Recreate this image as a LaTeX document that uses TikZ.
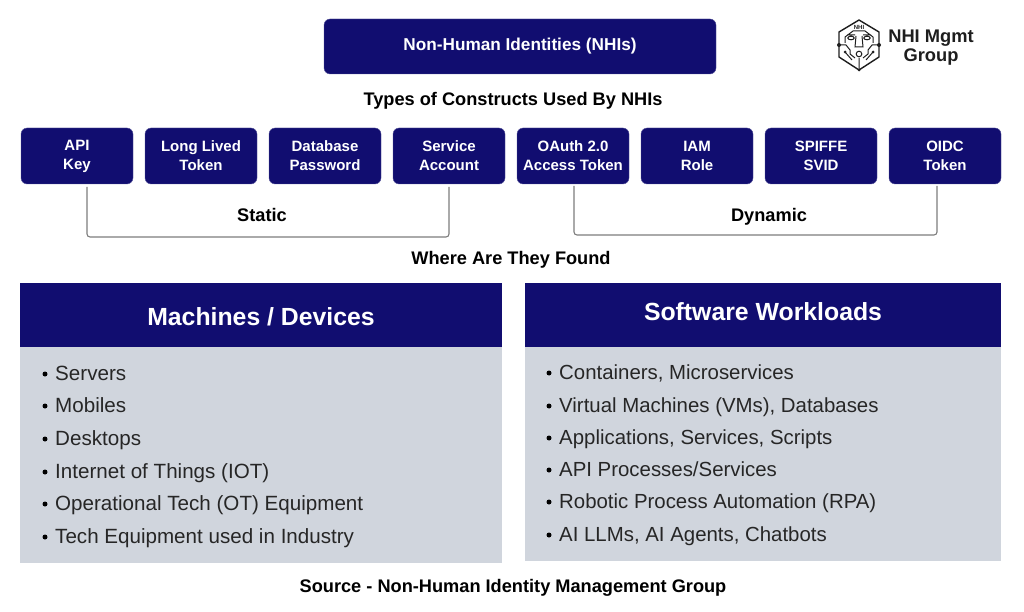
\documentclass[tikz,border=0pt]{standalone}
\usepackage{fontspec}
\setmainfont{Liberation Sans}
\usetikzlibrary{positioning}
\definecolor{navy}{RGB}{17,13,112}
\definecolor{panelgray}{RGB}{208,213,221}
\definecolor{bracketgray}{RGB}{125,125,125}
\definecolor{logogray}{RGB}{30,30,30}
\newcommand{\fs}[1]{\fontsize{#1}{19}\selectfont}
\begin{document}
\begin{tikzpicture}[x=1pt, y=-1pt, node distance=12pt,
                    construct/.style={rectangle, draw=navy!70!white, fill=navy, rounded corners=6pt, minimum width=112pt, minimum height=56pt, inner sep=0pt, outer sep=0pt, align=center, text=white, font=\fs{15}\bfseries},
                    heading/.style={anchor=base, font=\fs{18.2}\bfseries, text=black, inner sep=0pt},
                    bracket/.style={draw=bracketgray, line width=1.1pt, rounded corners=3pt},
                    panelhead/.style={rectangle, fill=navy, inner sep=0pt, outer sep=0pt},
                    paneltitle/.style={anchor=base, inner sep=0pt, text=white, font=\fs{24.8}\bfseries},
                    panelbody/.style={rectangle, fill=panelgray, inner sep=0pt, outer sep=0pt},
                    listitem/.style={anchor=base west, inner sep=0pt, text=black!85, font=\fs{20.6}},
                    dot/.style={circle, fill=black, inner sep=0pt, minimum size=5pt},
                    logoline/.style={draw=logogray, line width=1pt}]

  \useasboundingbox (0,0) rectangle (1024,612);

  \node[construct, minimum width=392pt, minimum height=55pt, font=\fs{17.2}\bfseries] (nhi) at (520,46.5) {\raisebox{-2pt}{Non-Human Identities (NHIs)}};
  \node[heading] (types) at (513,106) {Types of Constructs Used By NHIs};

  \node[construct] (apikey) at (77,156) {API\\Key};
  \node[construct] (longlived) [right=of apikey] {Long Lived\\Token};
  \node[construct] (dbpass) [right=of longlived] {Database\\Password};
  \node[construct] (svcacct) [right=of dbpass] {Service\\Account};
  \node[construct] (oauth) [right=of svcacct] {OAuth 2.0\\Access Token};
  \node[construct] (iam) [right=of oauth] {IAM\\Role};
  \node[construct] (spiffe) [right=of iam] {SPIFFE\\SVID};
  \node[construct] (oidc) [right=of spiffe] {OIDC\\Token};

  \coordinate (staticl) at ([xshift=10pt,yshift=-3pt]apikey.south);
  \coordinate (staticr) at ([yshift=-3pt]svcacct.south);
  \coordinate (dynl) at ([xshift=1pt,yshift=-2pt]oauth.south);
  \coordinate (dynr) at ([xshift=-8pt,yshift=-2pt]oidc.south);

  \draw[bracket] (staticl) -- ++(0,50) -| (staticr);
  \draw[bracket] (dynl) -- ++(0,49) -| (dynr);

  \node[heading] (static) at (262,222) {Static};
  \node[heading] (dynamic) at (769,222) {Dynamic};
  \node[heading] (found) at (511,264) {Where Are They Found};

  % panels
  \node[panelhead, minimum width=482pt, minimum height=64pt] (machines) at (261,315) {};
  \node[panelbody, minimum width=482pt, minimum height=216pt, below=0pt of machines] (machinesbody) {};
  \node[panelhead, minimum width=476pt, minimum height=64pt] (software) at (763,315) {};
  \node[panelbody, minimum width=476pt, minimum height=214pt, below=0pt of software] (softwarebody) {};
  \node[paneltitle] (machinestitle) at (261,325) {Machines / Devices};
  \node[paneltitle] (softwaretitle) at (763,320) {Software Workloads};

  \foreach \i/\y/\txt in {1/373/Servers, 2/405/Mobiles, 3/438/Desktops, 4/471/Internet of Things (IOT), 5/503/Operational Tech (OT) Equipment, 6/536/Tech Equipment used in Industry} {
    \node[dot] (mdot\i) at (45,\y+1) {};
    \node[listitem] (mitem\i) at (55,\y+7) {\txt};
  }
  \foreach \i/\y/\txt in {1/372/{Containers, Microservices}, 2/405/{Virtual Machines (VMs), Databases}, 3/437/{Applications, Services, Scripts}, 4/469/{API Processes/Services}, 5/501/{Robotic Process Automation (RPA)}, 6/534/{AI LLMs, AI Agents, Chatbots}} {
    \node[dot] (sdot\i) at (549,\y+1) {};
    \node[listitem, font=\fs{20.4}] (sitem\i) at (559,\y+7) {\txt};
  }

  \node[heading] (source) at (513,592) {Source - Non-Human Identity Management Group};

  % logo
  \draw[logoline, line width=1.4pt, line join=round] (859,20) -- (879,32) -- (879,57) -- (859,70) -- (839,57) -- (839,32) -- cycle;
  \node[font=\fs{6}\bfseries, inner sep=0pt, text=logogray] (logonhi) at (859,27) {NHI};
  \draw[logoline] (845,37) -- (853,31) -- (865,31) -- (873,37)
    (845,37) -- (845,43) (873,37) -- (873,43)
    (847,35) -- (855,35) (863,35) -- (871,35)
    (856,36) -- (855,47) -- (863,47) -- (862,36)
    (851,38) ellipse (3.2pt and 1.8pt) (867,38) ellipse (3.2pt and 1.8pt)
    (839,45) -- (846,45) -- (850,50) -- (850,54) -- (855,58)
    (879,45) -- (872,45) -- (868,50) -- (868,54) -- (863,58)
    (845,52) -- (852,60) (873,52) -- (866,60) (859,58) -- (859,70);
  \fill[logogray] (839,45) circle (2pt) (879,45) circle (2pt) (859,70) circle (1.5pt) (845,52) circle (1.5pt) (873,52) circle (1.5pt);
  \draw[logoline, fill=white] (859,54) circle (2.8pt);
  \node[font=\fontsize{18.3}{19}\selectfont\bfseries, inner sep=0pt, align=center, text=logogray] (logotext) at (931,48) {NHI Mgmt\\Group};

\end{tikzpicture}
\end{document}
